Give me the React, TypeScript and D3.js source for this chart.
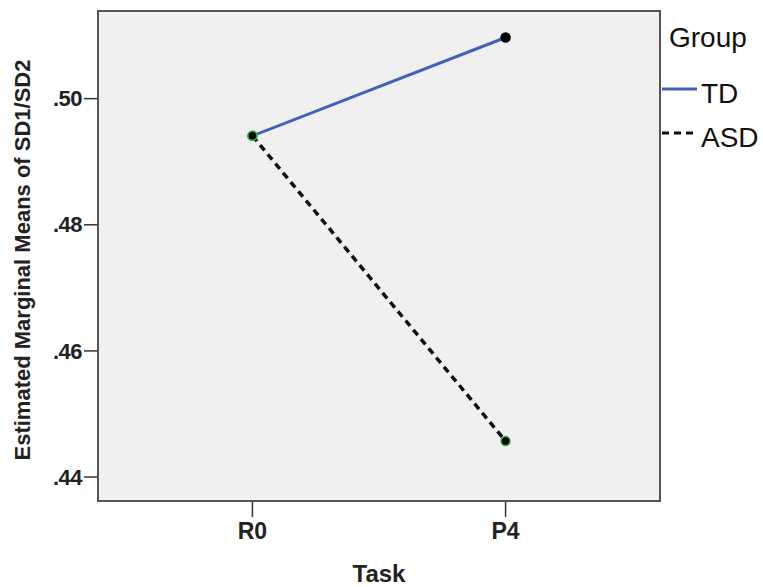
import React from "react";
import * as d3 from "d3";

const tasks = ["R0", "P4"];
const tdValues = [0.4941, 0.5097];
const asdValues = [0.4941, 0.4457];
const yTicks = [0.44, 0.46, 0.48, 0.5];
const groups = ["TD", "ASD"];

const width = 763;
const height = 587;
const margin = { top: 11, right: 103, bottom: 86, left: 98 };
const font = "'Liberation Sans', Arial, sans-serif";

export default function App() {
  const x = d3
    .scalePoint()
    .domain(tasks)
    .range([margin.left, width - margin.right])
    .padding(0.61);

  const y = d3
    .scaleLinear()
    .domain([0.4362, 0.5139])
    .range([height - margin.bottom, margin.top]);

  const line = d3
    .line<number>()
    .x((d, i) => x(tasks[i]) as number)
    .y((d) => y(d));

  const fmt = (v: number) => d3.format(".2f")(v).replace(/^0/, "");

  const left = margin.left;
  const right = width - margin.right;
  const top = margin.top;
  const bottom = height - margin.bottom;

  return (
    <svg
      width={width}
      height={height}
      style={{ position: "absolute", left: 0, top: 0, background: "#fff" }}
      fontFamily={font}
    >
      <rect x={left} y={top} width={right - left} height={bottom - top} fill="#f0f0f0" />

      {/* y axis */}
      {yTicks.map((t) => (
        <g key={t}>
          <line x1={left - 14} x2={left} y1={y(t)} y2={y(t)} stroke="#333" strokeWidth={1.5} />
          <text x={left - 16} y={y(t)} dy="0.35em" textAnchor="end" fontSize={22} fontWeight="bold" fill="#222" letterSpacing={-0.5}>
            {fmt(t)}
          </text>
        </g>
      ))}

      {/* x axis */}
      {tasks.map((t) => (
        <g key={t}>
          <line x1={x(t)} x2={x(t)} y1={bottom} y2={bottom + 16} stroke="#333" strokeWidth={1.5} />
          <text x={x(t)} y={539} textAnchor="middle" fontSize={23} fontWeight="bold" fill="#222">
            {t}
          </text>
        </g>
      ))}

      <rect
        x={left}
        y={top}
        width={right - left}
        height={bottom - top}
        fill="none"
        stroke="#555"
        strokeWidth={2}
      />

      {/* lines */}
      <path d={line(tdValues) || ""} fill="none" stroke="#4261bd" strokeWidth={3} />
      <path d={line(asdValues) || ""} fill="none" stroke="#111" strokeWidth={3.5} strokeDasharray="7,5" />

      {/* points */}
      {tdValues.map((v, i) => (
        <circle key={"td" + i} cx={x(tasks[i])} cy={y(v)} r={4.5} fill="#000" stroke={i === 0 ? "#2cb52c" : "#000"} strokeWidth={1.5} />
      ))}
      {asdValues.map((v, i) => (
        <circle key={"asd" + i} cx={x(tasks[i])} cy={y(v)} r={4.5} fill="#000" stroke="#2cb52c" strokeWidth={1.5} />
      ))}

      {/* axis titles */}
      <text x={(left + right) / 2} y={582} textAnchor="middle" fontSize={24} fontWeight="bold" fill="#222">
        Task
      </text>
      <text
        transform={`translate(30,${(top + bottom) / 2 + 4}) rotate(-90)`}
        textAnchor="middle"
        fontSize={22}
        fontWeight="bold"
        fill="#222"
      >
        Estimated Marginal Means of SD1/SD2
      </text>

      {/* legend */}
      <text x={669} y={47} fontSize={28} fill="#111">
        Group
      </text>
      {groups.map((g, i) => (
        <g key={g}>
          <line
            x1={662}
            x2={697}
            y1={89 + i * 44}
            y2={89 + i * 44}
            stroke={i === 0 ? "#4261bd" : "#111"}
            strokeWidth={3}
            strokeDasharray={i === 0 ? undefined : "7,5"}
          />
          <text x={701} y={103 + i * 44} fontSize={28} fill="#111">
            {g}
          </text>
        </g>
      ))}
    </svg>
  );
}
